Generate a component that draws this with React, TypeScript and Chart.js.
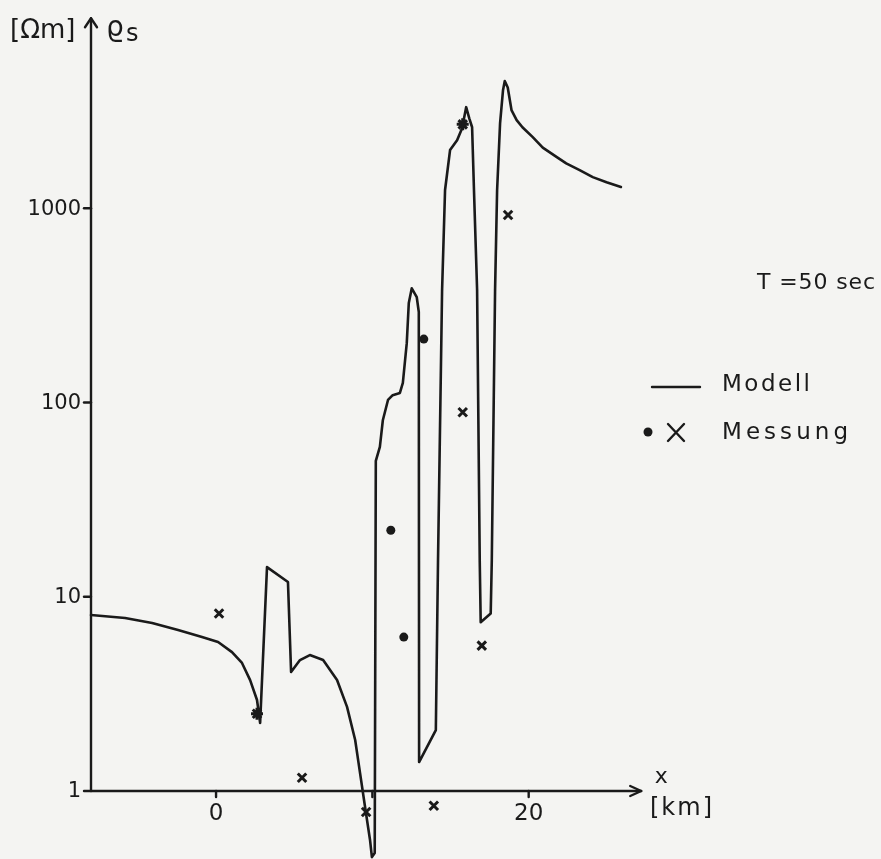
import React, { useEffect, useRef } from "react";
import { Chart, registerables } from "chart.js";

Chart.register(...registerables);

// ---- data (x in km, rho_s in Ohm m) ----
const modelX = [
  -8, -5.82, -4.09, -2.43, -0.9, 0.13, 1.02, 1.66, 2.18, 2.62, 2.82,
  3.26, 4.6, 4.8, 5.37, 6.0, 6.85, 7.74, 8.38, 8.9, 9.21, 9.53, 9.85, 9.97,
  10.15, 10.22, 10.48, 10.67, 11.0, 11.3, 11.76, 11.95, 12.2, 12.33, 12.52, 12.84, 12.97,
  12.99, 14.06, 14.2, 14.46, 14.65, 14.97, 15.42, 15.74, 16.0, 16.2, 16.38,
  16.5, 16.7, 16.87, 16.93, 17.57, 17.64, 17.85, 17.98, 18.17, 18.36, 18.47, 18.66, 18.9,
  19.23, 19.6, 20.26, 20.9, 21.8, 22.4, 23.26, 24.1, 24.98, 25.9,
];
const modelRho = [
  8.05, 7.77, 7.33, 6.74, 6.21, 5.85, 5.19, 4.56, 3.72, 2.94, 2.24,
  14.2, 11.9, 4.1, 4.72, 5.01, 4.72, 3.73, 2.71, 1.83, 1.24, 0.83, 0.56, 0.457,
  0.48, 50, 59, 81, 103, 109, 112, 126, 202, 325, 387, 348, 292,
  1.41, 2.06, 15.4, 379, 1240, 1990, 2240, 2580, 3310, 2900, 2610,
  1240, 379, 15, 7.4, 8.2, 15.4, 379, 1240, 2740, 4060, 4510, 4180, 3200,
  2840, 2610, 2320, 2050, 1830, 1700, 1570, 1445, 1360, 1285,
];

const crossX = [0.19, 2.62, 5.5, 9.6, 13.93, 15.78, 15.78, 17.0, 18.68];
const crossRho = [8.2, 2.5, 1.17, 0.78, 0.84, 89, 2700, 5.6, 922];
const crossStyle = ["crossRot", "star", "crossRot", "crossRot", "crossRot", "crossRot", "star", "crossRot", "crossRot"];

const dotX = [11.18, 12.01, 13.29];
const dotRho = [22, 6.2, 212];

const yTickValues = [1, 10, 100, 1000];
const yTickLabels = ["1", "10", "100", "1000"];
const xTickValues = [0, 10, 20];
const xTickLabels = ["0", "", "20"];

const X_MIN = -8;
const X_MAX = 30;
const X_ARROW = 27.2;
const Y_MIN = 0.5;
const Y_MAX = 6000;
const Y_ARROW = 9500;

const INK = "#1a1a1a";
const FONT = "'DejaVu Sans', sans-serif";

function drawText(
  ctx: CanvasRenderingContext2D,
  text: string,
  x: number,
  y: number,
  size: number,
  align: CanvasTextAlign,
  targetWidth = 0
) {
  ctx.font = `${size}px ${FONT}`;
  let spacing = 0;
  if (targetWidth > 0 && text.length > 1) {
    const w = ctx.measureText(text).width;
    spacing = Math.max(0, (targetWidth - w) / (text.length - 1));
  }
  (ctx as any).letterSpacing = `${spacing}px`;
  ctx.textAlign = align;
  ctx.textBaseline = "middle";
  ctx.fillText(text, x, y);
  (ctx as any).letterSpacing = "0px";
}

const paperPlugin = {
  id: "paper",
  beforeDraw(chart: any) {
    const { ctx, width, height } = chart;
    ctx.save();
    ctx.fillStyle = "#f4f4f2";
    ctx.fillRect(0, 0, width, height);
    ctx.restore();
  },
  beforeDatasetsDraw(chart: any) {
    const { ctx } = chart;
    const xs = chart.scales.x;
    const ys = chart.scales.y;
    const x0 = xs.getPixelForValue(X_MIN);
    const yb = ys.getPixelForValue(1);
    const yTop = ys.getPixelForValue(Y_ARROW);
    const xEnd = xs.getPixelForValue(X_ARROW);
    ctx.save();
    ctx.strokeStyle = INK;
    ctx.fillStyle = INK;
    ctx.lineWidth = 2.4;
    ctx.lineCap = "round";
    ctx.lineJoin = "round";
    ctx.beginPath();
    ctx.moveTo(x0, yTop);
    ctx.lineTo(x0, yb);
    ctx.lineTo(xEnd, yb);
    ctx.stroke();
    // arrowheads
    ctx.beginPath();
    ctx.moveTo(x0 - 6, yTop + 9);
    ctx.lineTo(x0, yTop);
    ctx.lineTo(x0 + 6, yTop + 9);
    ctx.moveTo(xEnd - 11, yb - 5);
    ctx.lineTo(xEnd, yb);
    ctx.lineTo(xEnd - 11, yb + 5);
    ctx.stroke();
    // y ticks
    yTickValues.forEach((v, i) => {
      const py = ys.getPixelForValue(v);
      ctx.beginPath();
      ctx.moveTo(x0 - 7, py);
      ctx.lineTo(x0, py);
      ctx.stroke();
      drawText(ctx, yTickLabels[i], x0 - 10, py + 1, 21, "right", yTickLabels[i].length * 11);
    });
    // x ticks
    xTickValues.forEach((v, i) => {
      const px = xs.getPixelForValue(v);
      ctx.beginPath();
      ctx.moveTo(px, yb);
      ctx.lineTo(px, yb + 6);
      ctx.stroke();
      if (xTickLabels[i]) drawText(ctx, xTickLabels[i], px, yb + 23, 23, "center");
    });
    // axis titles
    drawText(ctx, "[Ωm]", 10, 31, 26, "left", 62);
    drawText(ctx, "ϱ", 106, 29, 28, "left");
    drawText(ctx, "s", 126, 35, 24, "left");
    drawText(ctx, "x", xEnd + 20, yb - 14, 22, "center");
    drawText(ctx, "[km]", 650, yb + 18, 24, "left", 62);
    // annotation
    drawText(ctx, "T =50 sec", 757, 283, 22, "left", 118);
    // legend
    ctx.beginPath();
    ctx.moveTo(652, 387);
    ctx.lineTo(700, 387);
    ctx.stroke();
    drawText(ctx, "Modell", 722, 385, 23, "left", 88);
    ctx.beginPath();
    ctx.arc(648, 432, 4.5, 0, Math.PI * 2);
    ctx.fill();
    ctx.beginPath();
    ctx.moveTo(668, 424);
    ctx.lineTo(684, 441);
    ctx.moveTo(684, 424);
    ctx.lineTo(668, 441);
    ctx.stroke();
    drawText(ctx, "Messung", 722, 433, 23, "left", 126);
    ctx.restore();
  },
};

export default function App() {
  const canvasRef = useRef<HTMLCanvasElement | null>(null);

  useEffect(() => {
    if (!canvasRef.current) return;
    const chart = new Chart(canvasRef.current, {
      type: "line",
      data: {
        datasets: [
          {
            label: "Modell",
            data: modelX.map((x, i) => ({ x, y: modelRho[i] })),
            borderColor: INK,
            borderWidth: 2.6,
            borderJoinStyle: "round",
            borderCapStyle: "round",
            pointRadius: 0,
            tension: 0,
            fill: false,
            clip: false as any,
          },
          {
            label: "Messung (x)",
            data: crossX.map((x, i) => ({ x, y: crossRho[i] })),
            showLine: false,
            pointStyle: crossStyle as any,
            pointRadius: 6,
            borderColor: INK,
            pointBorderWidth: 3,
            clip: false as any,
          },
          {
            label: "Messung (•)",
            data: dotX.map((x, i) => ({ x, y: dotRho[i] })),
            showLine: false,
            pointStyle: "circle",
            pointRadius: 4.5,
            backgroundColor: INK,
            borderColor: INK,
            pointBorderWidth: 0,
            clip: false as any,
          },
        ],
      },
      options: {
        animation: false,
        responsive: true,
        maintainAspectRatio: false,
        layout: { padding: { left: 91, right: 196, top: 57, bottom: 9.5 } },
        plugins: { legend: { display: false }, tooltip: { enabled: false } },
        scales: {
          x: { type: "linear", min: X_MIN, max: X_MAX, display: false },
          y: { type: "logarithmic", min: Y_MIN, max: Y_MAX, display: false },
        },
      },
      plugins: [paperPlugin],
    });
    return () => chart.destroy();
  }, []);

  return (
    <div style={{ position: "fixed", left: 0, top: 0, width: 881, height: 859 }}>
      <canvas ref={canvasRef} />
    </div>
  );
}
